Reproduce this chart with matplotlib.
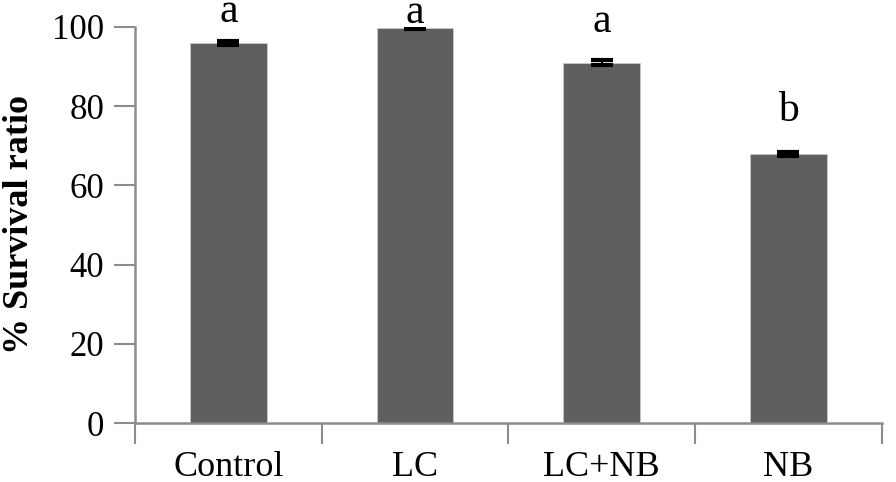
import numpy as np
import matplotlib
matplotlib.use('Agg')
import matplotlib.pyplot as plt
from matplotlib.ticker import FixedLocator

# data
groups = ['Control', 'LC', 'LC+NB', 'NB']
survival = [96.0, 99.8, 91.0, 68.0]
survival_err = [0.5, 0.3, 0.7, 0.5]
letters = ['a', 'a', 'a', 'b']

plt.rcParams['font.family'] = ['Liberation Serif', 'DejaVu Serif']

fig = plt.figure(figsize=(8.96, 4.82), dpi=100)
ax = fig.add_axes([0.1507, 0.1224, 0.8333, 0.8216])

x = np.arange(len(groups))
ax.bar(x, survival, width=0.41, color='#5f5f5f', edgecolor='#c8c8c8', linewidth=0.6, zorder=2)
ax.errorbar(x, survival, yerr=survival_err, fmt='none', ecolor='black', elinewidth=1.5,
            capsize=8, capthick=3, zorder=3)

# letters above bars, offsets in pixels
letter_pad = [21, 5, 31, 33]
for xi, v, lab, pad in zip(x, survival, letters, letter_pad):
    ax.annotate(lab, (xi, v), xytext=(0, pad), textcoords='offset pixels',
                ha='center', va='baseline', fontsize=30, annotation_clip=False)

ax.set_xlim(-0.5, len(groups) - 0.5)
ax.set_ylim(0, 100)
ax.set_yticks([0, 20, 40, 60, 80, 100])
ax.set_xticks(x)
ax.set_xticklabels(groups, fontsize=26)
ax.xaxis.set_minor_locator(FixedLocator(np.arange(-0.5, len(groups), 1.0)))
ax.tick_params(axis='x', which='major', length=0, pad=20)
ax.tick_params(axis='x', which='minor', length=15, width=1.5, color='#8c8c8c')
ax.tick_params(axis='y', length=15, width=1.5, color='#8c8c8c', labelsize=25, pad=7)

for s in ['top', 'right']:
    ax.spines[s].set_visible(False)
for s in ['left', 'bottom']:
    ax.spines[s].set_color('#8c8c8c')
    ax.spines[s].set_linewidth(1.8)

ax.set_ylabel('% Survival ratio', fontsize=26, fontweight='bold')
ax.yaxis.set_label_coords(-0.133, 0.5)

fig.savefig('out.png', dpi=100)
